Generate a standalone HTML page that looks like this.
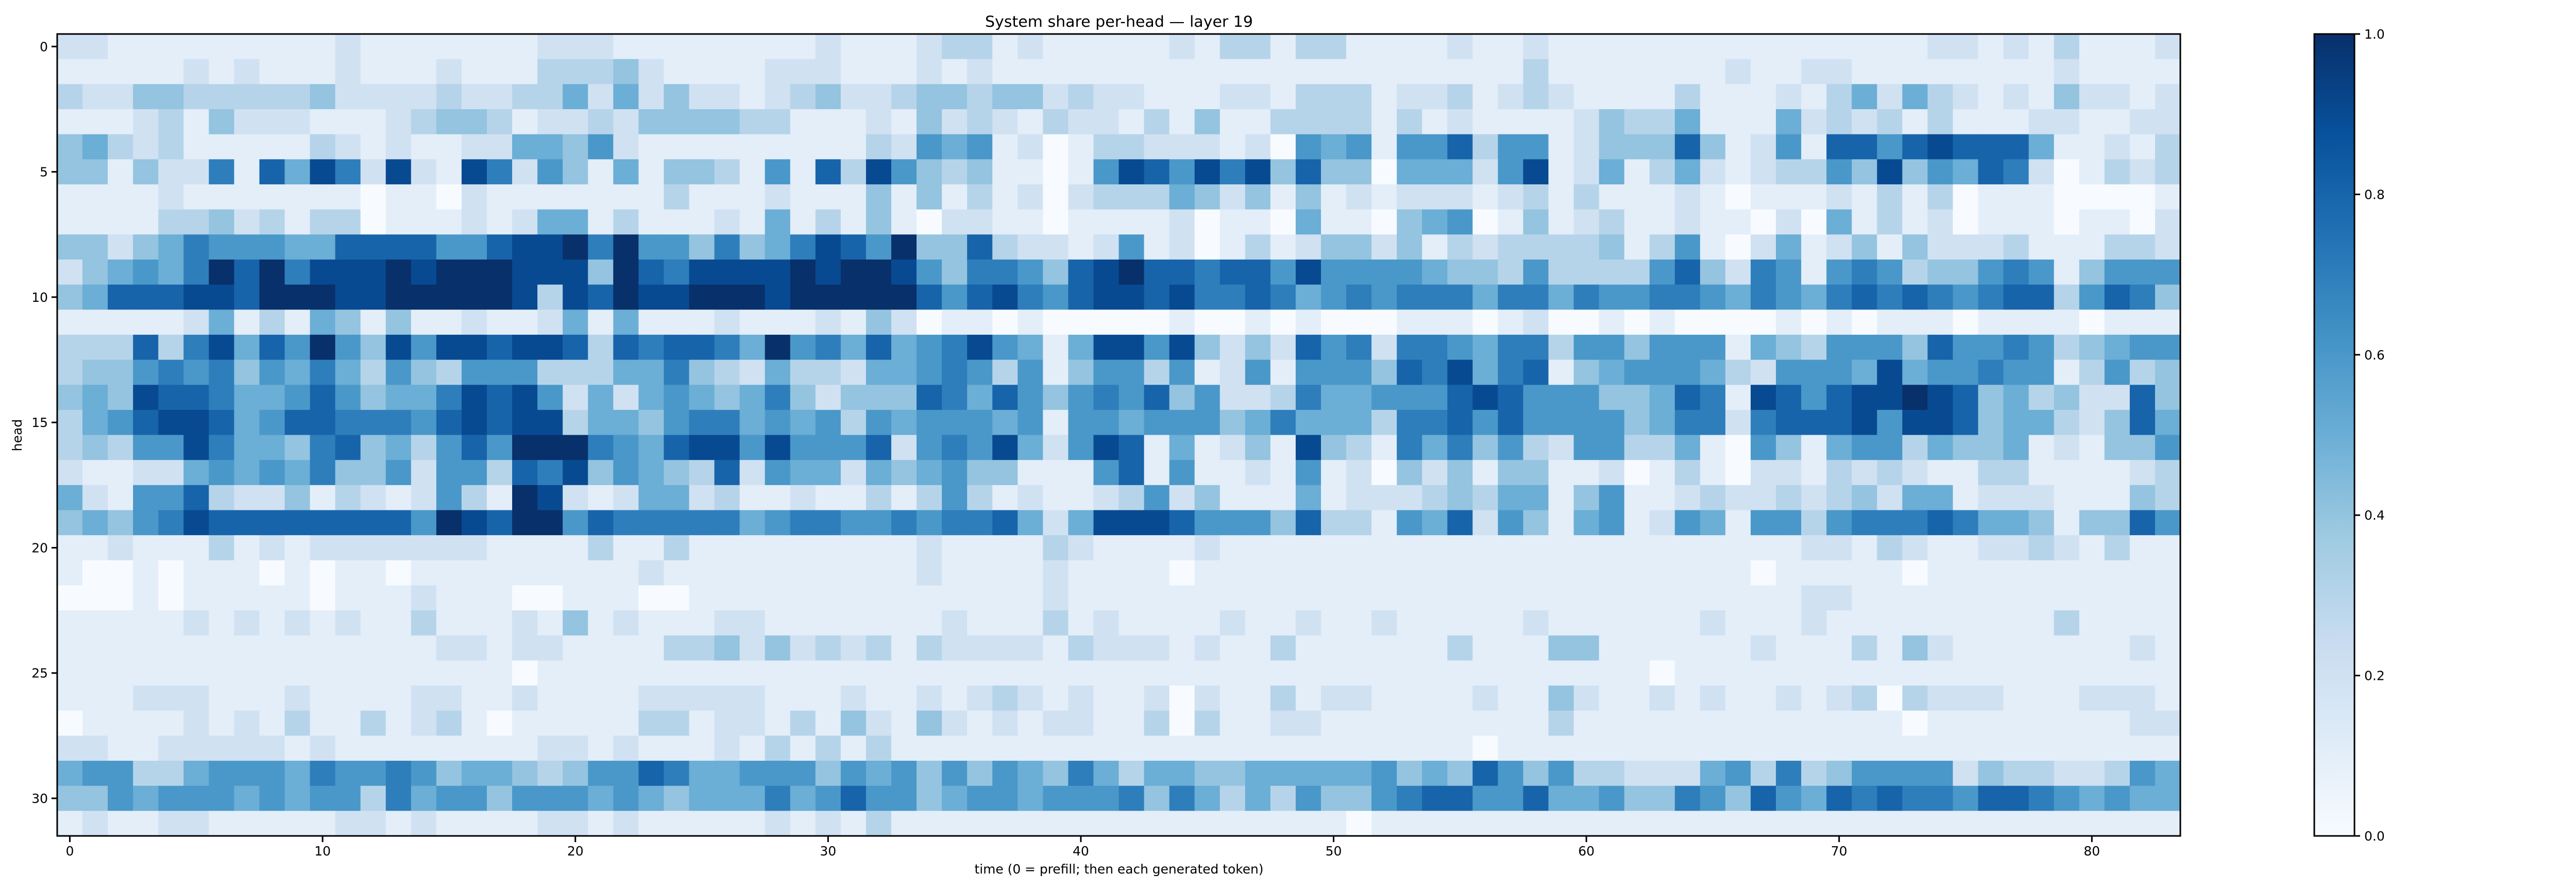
<!DOCTYPE html>
<html><head><meta charset="utf-8"><style>
html,body{margin:0;padding:0;background:#fff;}
svg{display:block;font-family:"DejaVu Sans","Liberation Sans",sans-serif;}
</style></head><body>
<svg id="chart" xmlns="http://www.w3.org/2000/svg" width="5292" height="1728" viewBox="0 0 5292 1728">
<defs>
<linearGradient id="blues" x1="0" y1="1" x2="0" y2="0">
<stop offset="0" stop-color="#f7fbff"/><stop offset="0.125" stop-color="#deebf7"/><stop offset="0.25" stop-color="#c6dbef"/><stop offset="0.375" stop-color="#9ecae1"/><stop offset="0.5" stop-color="#6baed6"/><stop offset="0.625" stop-color="#4292c6"/><stop offset="0.75" stop-color="#2171b5"/><stop offset="0.875" stop-color="#08519c"/><stop offset="1" stop-color="#08306b"/>
</linearGradient>
</defs>
<text x="2172" y="52" font-size="29" text-anchor="middle" textLength="520" lengthAdjust="spacingAndGlyphs">System share per-head — layer 19</text>
<g id="cells"></g>
<rect x="111" y="66" width="4121" height="1557" fill="none" stroke="#000" stroke-width="3"/>
<g id="xaxis"></g>
<g id="yaxis"></g>
<text x="2172" y="1696" font-size="25" text-anchor="middle" textLength="561" lengthAdjust="spacingAndGlyphs">time (0 = prefill; then each generated token)</text>
<text x="0" y="0" font-size="25" text-anchor="middle" transform="translate(42,845) rotate(-90)">head</text>
<g id="colorbar">
<rect x="4492" y="66" width="78" height="1557" fill="url(#blues)" stroke="#000" stroke-width="3"/>
</g>
</svg>
<script>
const numHeads = 32;
const numSteps = 84;
const xTicks = [0,10,20,30,40,50,60,70,80];
const yTicks = [0,5,10,15,20,25,30];
const cbTicks = [0,0.2,0.4,0.6,0.8,1.0];
const cbTickLabels = ["0.0","0.2","0.4","0.6","0.8","1.0"];
// values in tenths (0..10), one array per head
const h0 = [2,2,1,1,1,1,1,1,1,1,1,2,1,1,1,1,1,1,1,2,2,2,1,1,1,1,1,1,1,1,2,1,1,1,2,3,3,1,2,1,1,1,1,1,2,1,3,3,1,3,3,1,1,1,1,2,1,1,2,1,1,1,1,1,1,1,1,1,1,1,1,1,1,1,2,2,1,2,1,3,1,1,1,2];
const h1 = [1,1,1,1,1,2,1,2,1,1,1,2,1,1,1,2,1,1,1,3,3,3,4,2,1,1,1,1,2,2,2,1,1,1,2,1,2,1,1,1,1,1,1,1,1,1,1,1,1,1,1,1,1,1,1,1,1,1,3,1,1,1,1,1,1,1,2,1,1,2,2,1,1,1,1,1,1,1,1,2,1,1,1,1];
const h2 = [3,2,2,4,4,3,3,3,3,3,4,2,2,2,2,3,2,2,3,3,5,2,5,2,4,2,2,1,2,3,4,2,2,3,4,4,3,4,4,2,3,2,2,1,1,1,2,2,1,3,3,3,1,2,2,3,1,2,3,2,1,1,1,1,3,1,1,1,2,1,3,5,2,5,3,2,1,2,1,4,2,2,1,2];
const h3 = [1,1,1,2,3,1,4,2,2,2,1,1,1,2,3,4,4,3,1,2,2,3,2,4,4,4,4,3,3,1,1,1,2,1,4,2,3,2,1,3,2,2,1,3,1,4,1,1,3,3,3,3,1,3,1,2,1,1,1,1,2,4,3,3,5,1,1,1,5,2,3,2,3,1,3,1,1,1,2,2,1,1,2,2];
const h4 = [4,5,3,2,3,1,1,1,1,1,3,2,1,2,1,1,2,2,5,5,4,6,2,1,1,1,1,1,1,1,1,1,3,2,6,5,6,1,2,0,1,3,3,2,2,2,1,2,0,6,5,6,1,6,6,8,3,6,6,1,2,4,4,4,8,4,1,2,6,1,8,8,6,8,9,8,8,8,5,1,1,2,1,3];
const h5 = [4,4,1,4,2,2,7,1,8,5,9,7,2,9,2,1,9,7,2,6,4,1,5,1,4,4,3,1,6,1,8,3,9,6,4,3,4,1,1,0,1,6,9,8,6,9,7,9,4,8,4,4,0,5,5,5,2,6,9,1,2,5,1,3,5,2,1,2,3,3,6,4,9,4,6,5,8,7,2,0,1,3,2,3];
const h6 = [1,1,1,1,2,1,1,1,1,1,1,1,0,1,1,0,2,1,1,1,1,1,1,1,3,1,1,1,2,1,1,1,4,1,4,1,3,1,2,0,2,3,3,3,5,4,2,4,1,4,1,2,1,2,2,2,1,2,3,1,3,1,1,1,2,1,0,1,1,1,2,1,3,1,3,0,1,1,1,0,0,0,0,1];
const h7 = [1,1,1,1,3,3,4,2,3,1,3,3,0,1,1,1,2,1,2,5,5,1,3,1,1,1,2,1,5,1,3,1,4,1,0,2,2,1,1,0,1,1,1,1,2,0,1,1,0,5,1,1,0,4,5,6,0,1,4,1,2,3,1,1,2,1,1,0,2,0,5,1,3,1,2,0,1,1,1,0,1,1,0,2];
const h8 = [4,4,2,4,5,7,6,6,6,5,5,8,8,8,8,6,6,8,9,9,10,7,10,6,6,4,7,4,5,7,9,8,6,10,4,4,8,3,2,2,1,2,6,1,2,0,1,3,1,2,4,4,2,4,1,3,2,3,3,3,3,4,1,3,6,1,0,2,5,1,2,4,1,4,2,2,2,3,1,1,1,3,3,2];
const h9 = [2,4,5,6,5,7,10,8,10,7,9,9,9,10,9,10,10,10,9,9,9,4,10,8,7,9,9,9,9,10,9,10,10,9,6,4,7,7,6,4,8,9,10,8,8,7,8,8,6,9,6,6,6,6,5,4,4,3,6,3,3,3,3,6,8,4,2,7,6,1,6,7,6,3,4,4,6,7,6,1,4,6,6,6];
const h10 = [4,5,8,8,8,9,9,8,10,10,10,9,9,10,10,10,10,10,9,3,9,8,10,9,9,10,10,10,9,10,10,10,10,10,8,6,8,9,7,6,8,9,9,8,9,7,7,8,7,5,6,7,6,7,7,7,5,7,7,5,7,6,6,7,7,6,5,7,6,5,7,8,7,8,7,6,7,8,8,3,6,8,7,4];
const h11 = [1,1,1,1,1,2,5,1,3,1,5,4,1,4,1,1,2,1,1,2,5,1,5,1,1,1,2,1,1,1,2,1,4,2,0,1,1,0,1,0,0,0,0,0,1,0,0,1,0,1,0,0,0,1,1,1,0,1,2,0,0,1,0,1,0,0,0,0,1,0,1,0,1,1,1,0,1,1,1,1,0,1,1,1];
const h12 = [3,3,3,8,3,7,9,5,8,6,10,6,4,9,6,9,9,8,9,9,8,3,8,7,8,8,7,5,10,6,7,5,8,5,6,7,9,6,5,1,5,9,9,6,9,4,2,4,2,8,6,7,2,7,7,6,5,7,7,3,6,6,4,6,6,6,1,5,4,3,6,6,6,4,8,6,6,7,6,3,4,5,6,6];
const h13 = [3,4,4,6,7,6,7,4,6,5,7,5,3,6,4,3,6,6,6,3,3,3,5,5,7,4,3,2,5,3,3,2,5,5,6,7,6,3,6,1,4,6,6,3,6,1,2,6,1,6,6,6,4,8,7,9,5,7,8,1,4,5,6,6,6,5,3,2,6,6,6,5,9,5,6,6,7,6,6,1,3,6,3,4];
const h14 = [4,5,4,9,8,8,7,5,5,6,8,6,4,5,5,7,9,8,9,6,2,5,2,5,6,5,4,5,7,4,2,4,4,4,8,7,5,8,6,4,6,7,6,8,4,6,2,2,3,7,5,5,6,6,6,8,9,8,6,6,6,4,4,5,8,7,1,9,8,6,8,9,9,10,9,8,4,5,3,4,2,2,8,4];
const h15 = [3,5,6,8,9,9,8,5,6,8,8,7,7,7,6,8,9,8,9,9,3,5,5,4,6,7,7,5,6,5,6,3,6,5,6,6,6,5,6,1,6,6,5,6,6,6,4,5,7,5,5,5,3,7,7,8,6,8,6,6,6,6,4,5,7,7,2,7,8,8,8,9,6,9,9,8,4,5,5,3,2,4,8,5];
const h16 = [3,4,3,6,6,9,7,5,5,4,7,8,4,5,3,6,8,6,10,10,10,7,6,5,8,9,9,6,9,6,6,6,8,2,6,7,6,9,5,2,6,9,8,1,5,1,2,4,1,9,4,3,1,7,5,7,4,6,3,2,6,6,3,3,5,1,0,6,4,1,5,6,6,3,5,4,4,5,1,2,1,4,4,6];
const h17 = [2,1,1,2,2,5,6,5,6,5,7,4,4,6,2,6,6,3,8,7,9,4,6,5,4,3,8,2,6,5,5,2,5,4,5,6,4,4,1,1,1,6,8,1,6,1,1,2,1,6,1,2,0,4,2,4,1,4,4,1,1,2,0,1,3,1,0,2,2,1,3,2,3,2,1,1,3,3,1,1,1,1,2,3];
const h18 = [5,2,1,6,6,8,3,2,2,4,1,3,2,1,2,6,3,1,10,9,2,1,2,5,5,2,3,1,1,2,1,1,3,1,3,6,3,1,2,1,1,2,3,6,2,4,1,1,1,5,1,2,2,2,3,4,3,5,5,1,4,6,1,1,2,3,2,2,3,2,3,4,2,5,5,1,2,2,2,1,1,1,4,3];
const h19 = [4,5,4,6,7,9,8,8,8,8,8,8,8,8,6,10,9,8,10,10,6,8,7,7,7,7,7,5,6,7,7,6,6,7,6,7,7,8,5,2,5,9,9,9,8,6,6,6,4,8,3,3,1,6,5,8,2,6,4,1,5,6,1,2,6,5,1,6,6,3,6,7,7,7,8,7,5,5,4,1,4,4,8,6];
const h20 = [1,1,2,1,1,1,3,1,2,1,2,2,2,2,2,2,2,1,1,1,1,3,1,1,3,1,1,1,1,1,1,1,1,1,2,1,1,1,1,3,2,1,1,1,1,2,1,1,1,1,1,1,1,1,1,1,1,1,1,1,1,1,1,1,1,1,1,1,1,2,2,1,3,2,1,1,2,2,3,2,1,3,1,1];
const h21 = [1,0,0,1,0,1,1,1,0,1,0,1,1,0,1,1,1,1,1,1,1,1,1,2,1,1,1,1,1,1,1,1,1,1,2,1,1,1,1,2,1,1,1,1,0,1,1,1,1,1,1,1,1,1,1,1,1,1,1,1,1,1,1,1,1,1,1,0,1,1,1,1,1,0,1,1,1,1,1,1,1,1,1,1];
const h22 = [0,0,0,1,0,1,1,1,1,1,0,1,1,1,2,1,1,1,0,0,1,1,1,0,0,1,1,1,1,1,1,1,1,1,1,1,1,1,1,2,1,1,1,1,1,1,1,1,1,1,1,1,1,1,1,1,1,1,1,1,1,1,1,1,1,1,1,1,1,2,2,1,1,1,1,1,1,1,1,1,1,1,1,1];
const h23 = [1,1,1,1,1,2,1,2,1,2,1,2,1,1,3,1,1,1,2,1,4,1,2,1,1,1,2,2,1,1,1,1,1,1,1,2,1,1,1,3,1,2,1,1,1,1,2,1,1,2,1,1,2,1,1,1,1,1,2,1,1,1,1,1,1,2,1,1,1,2,1,1,1,1,1,1,1,1,1,3,1,1,1,1];
const h24 = [1,1,1,1,1,1,1,1,1,1,1,1,1,1,1,2,2,1,2,2,1,1,1,1,3,3,4,2,4,2,3,2,3,1,3,2,2,2,2,1,3,2,2,2,1,2,1,1,3,1,1,1,1,1,1,3,1,1,1,4,4,1,1,1,1,1,1,2,1,1,1,3,1,4,2,1,1,1,1,1,1,1,2,1];
const h25 = [1,1,1,1,1,1,1,1,1,1,1,1,1,1,1,1,1,1,0,1,1,1,1,1,1,1,1,1,1,1,1,1,1,1,1,1,1,1,1,1,1,1,1,1,1,1,1,1,1,1,1,1,1,1,1,1,1,1,1,1,1,1,1,0,1,1,1,1,1,1,1,1,1,1,1,1,1,1,1,1,1,1,1,1];
const h26 = [1,1,1,2,2,2,1,1,1,2,1,1,1,1,2,2,1,1,2,1,1,1,1,2,2,2,2,2,1,1,1,2,1,1,2,1,2,3,2,1,2,1,1,2,0,2,1,1,3,1,2,2,1,1,1,1,2,1,1,4,2,1,1,2,1,2,1,1,2,1,2,3,0,3,2,2,2,1,1,1,2,2,2,1];
const h27 = [0,1,1,1,1,2,1,2,1,3,1,1,3,1,2,3,1,0,1,1,1,1,1,3,3,1,2,2,1,3,1,4,2,1,4,2,1,2,1,2,2,1,1,3,0,3,1,1,2,2,1,1,1,1,1,1,1,1,1,3,1,1,1,1,1,1,1,1,1,1,1,1,1,0,1,1,1,1,1,1,1,1,2,2];
const h28 = [2,2,1,1,2,2,2,2,2,1,2,1,1,1,1,1,1,1,1,2,2,1,2,1,1,1,2,1,3,1,3,1,3,1,1,1,1,1,1,1,1,1,1,1,1,1,1,1,1,1,1,1,1,1,1,1,0,1,1,1,1,1,1,1,1,1,1,1,1,1,1,1,1,1,1,1,1,1,1,1,1,1,1,1];
const h29 = [5,6,6,3,3,5,6,6,6,5,7,6,6,7,6,4,5,5,4,3,4,6,6,8,7,5,5,6,6,6,4,6,5,6,4,6,4,6,5,4,7,5,3,5,5,4,4,5,5,5,5,5,6,4,5,4,8,6,4,6,3,3,2,2,2,5,6,3,7,3,4,6,6,6,6,2,4,3,3,2,2,3,6,5];
const h30 = [4,4,6,5,6,6,6,5,6,5,6,6,3,7,5,6,6,4,6,6,6,5,6,5,4,5,5,5,7,5,6,8,6,6,4,5,6,6,5,6,6,6,7,4,7,5,3,5,3,6,4,4,6,7,8,8,6,6,8,5,5,6,4,4,7,6,4,8,6,5,8,7,8,7,7,6,8,8,7,6,5,6,5,5];
const h31 = [1,2,1,1,2,2,1,1,1,1,1,2,2,1,2,1,1,1,1,2,2,1,2,1,1,1,1,1,2,1,2,1,3,1,1,1,1,1,1,1,1,1,1,1,1,1,1,1,1,1,1,0,1,1,1,1,1,1,1,1,1,1,1,1,1,1,1,1,1,1,1,1,1,1,1,1,1,1,1,1,1,1,1,1];
const shareTenths = [h0,h1,h2,h3,h4,h5,h6,h7,h8,h9,h10,h11,h12,h13,h14,h15,h16,h17,h18,h19,h20,h21,h22,h23,h24,h25,h26,h27,h28,h29,h30,h31];

const NS = "http://www.w3.org/2000/svg";
const PL = 111, PR = 4232, PT = 66, PB = 1623;
const CBL = 4492, CBR = 4570;
const cw = (PR - PL) / numSteps, ch = (PB - PT) / numHeads;
function xPos(t){ return PL + t * cw; }
function yPos(h){ return PT + h * ch; }
function cbY(v){ return PB - v * (PB - PT); }
const stops = [[0,[247,251,255]],[0.125,[222,235,247]],[0.25,[198,219,239]],[0.375,[158,202,225]],[0.5,[107,174,214]],[0.625,[66,146,198]],[0.75,[33,113,181]],[0.875,[8,81,156]],[1,[8,48,107]]];
function blues(v){
  v = Math.max(0, Math.min(1, v));
  for (let i = 1; i < stops.length; i++) {
    if (v <= stops[i][0]) {
      const a = stops[i-1], b = stops[i], f = (v - a[0]) / (b[0] - a[0]);
      const c = a[1].map((x, k) => Math.round(x + (b[1][k] - x) * f));
      return "rgb(" + c.join(",") + ")";
    }
  }
  return "rgb(8,48,107)";
}
function mk(tag, attrs, parent){
  const el = document.createElementNS(NS, tag);
  for (const k in attrs) el.setAttribute(k, attrs[k]);
  parent.appendChild(el);
  return el;
}
const cells = document.getElementById("cells");
for (let h = 0; h < numHeads; h++) {
  const row = shareTenths[h];
  for (let t = 0; t < numSteps; t++) {
    const x0 = xPos(t), y0 = yPos(h);
    const r = mk("rect", {x: x0.toFixed(2), y: y0.toFixed(2), width: (cw + 0.6).toFixed(2), height: (ch + 0.6).toFixed(2), fill: blues(row[t] / 10)}, cells);
    
    
  }
}
const xaxis = document.getElementById("xaxis");
xTicks.forEach(v => {
  const x = xPos(v + 0.5);
  const tk = mk("line", {x1: x, x2: x, y1: PB, y2: PB + 12, stroke: "#000", "stroke-width": 3}, xaxis);
  
  
  const tx = mk("text", {x: x, y: PB + 38, "font-size": 25, "text-anchor": "middle"}, xaxis);
  
  
  tx.textContent = String(v);
});
const yaxis = document.getElementById("yaxis");
yTicks.forEach(v => {
  const y = yPos(v + 0.5);
  const tk = mk("line", {x1: PL - 11, x2: PL, y1: y, y2: y, stroke: "#000", "stroke-width": 3}, yaxis);
  
  
  const tx = mk("text", {x: 93, y: y + 9, "font-size": 25, "text-anchor": "end"}, yaxis);
  
  
  tx.textContent = String(v);
});
const cb = document.getElementById("colorbar");
cbTicks.forEach((v, i) => {
  const y = cbY(v);
  const tk = mk("line", {x1: CBR, x2: CBR + 11, y1: y, y2: y, stroke: "#000", "stroke-width": 3}, cb);
  
  
  const tx = mk("text", {x: CBR + 19, y: y + 9, "font-size": 25}, cb);
  
  
  tx.textContent = cbTickLabels[i];
});
</script>
</body></html>
